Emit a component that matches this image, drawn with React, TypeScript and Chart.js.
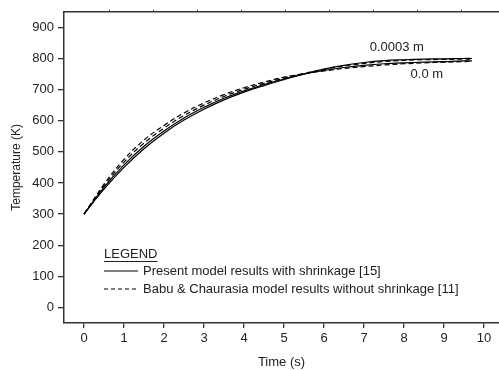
import React, { useEffect, useRef } from "react";
import { Chart, registerables } from "chart.js";

Chart.register(...registerables);

const TIME = [0, 0.5, 1, 1.5, 2, 2.5, 3, 3.5, 4, 4.5, 5, 5.5, 6, 6.5, 7, 7.5, 8, 8.5, 9, 9.5, 9.7];
const PRESENT_0003 = [300, 380, 450, 510, 560, 602, 637, 667, 692, 713, 732, 750, 766, 778, 787, 793, 796, 798, 799, 800, 800];
const PRESENT_00 = [300, 386, 458, 518, 567, 609, 643, 672, 696, 716, 734, 750, 762, 771, 778, 783, 786, 788, 790, 792, 792];
const BABU_0003 = [300, 391, 467, 528, 576, 617, 650, 678, 701, 720, 737, 752, 765, 776, 784, 790, 794, 796, 797, 798, 798];
const BABU_00 = [300, 396, 476, 538, 585, 625, 657, 684, 706, 724, 740, 751, 760, 768, 774, 779, 783, 786, 788, 790, 791];

const X_TICKS = [0, 1, 2, 3, 4, 5, 6, 7, 8, 9, 10];
const Y_TICKS = [0, 100, 200, 300, 400, 500, 600, 700, 800, 900];

const LEGEND_TITLE = "LEGEND";
const LEGEND_LABELS = [
  "Present model results with shrinkage [15]",
  "Babu & Chaurasia model results without shrinkage [11]",
];
const ANNOTATIONS = [
  { text: "0.0003 m", x: 7.82, y: 836 },
  { text: "0.0 m", x: 8.57, y: 749 },
];

const FONT = "'Liberation Sans', Arial, sans-serif";
const AXIS_COLOR = "#333";
const TEXT_COLOR = "#222";

const pts = (ys: number[]) => TIME.map((t, i) => ({ x: t, y: ys[i] }));

const overlayPlugin = {
  id: "overlay",
  afterDraw(chart: any) {
    const ctx = chart.ctx;
    const { left, bottom } = chart.chartArea;
    const xs = chart.scales.x;
    const ys = chart.scales.y;
    ctx.save();
    ctx.font = `13px ${FONT}`;
    ctx.fillStyle = TEXT_COLOR;
    ctx.textBaseline = "middle";
    ctx.textAlign = "center";
    ANNOTATIONS.forEach((a) => {
      ctx.fillText(a.text, xs.getPixelForValue(a.x), ys.getPixelForValue(a.y));
    });
    const lx = left + 40;
    const ty = bottom - 69;
    ctx.textAlign = "left";
    ctx.fillText(LEGEND_TITLE, lx, ty);
    const w = ctx.measureText(LEGEND_TITLE).width;
    ctx.strokeStyle = TEXT_COLOR;
    ctx.lineWidth = 1;
    ctx.beginPath();
    ctx.moveTo(lx, ty + 7.5);
    ctx.lineTo(lx + w, ty + 7.5);
    ctx.stroke();
    LEGEND_LABELS.forEach((lab, i) => {
      const y = ty + 17 + i * 18;
      ctx.strokeStyle = "#000";
      ctx.lineWidth = 1.1;
      ctx.setLineDash(i === 0 ? [] : [4, 3]);
      ctx.beginPath();
      ctx.moveTo(lx, y);
      ctx.lineTo(lx + 34, y);
      ctx.stroke();
      ctx.setLineDash([]);
      ctx.fillText(lab, lx + 39, y);
    });
    ctx.restore();
  },
};

export default function App() {
  const ref = useRef<HTMLCanvasElement>(null);
  useEffect(() => {
    if (!ref.current) return;
    const mk = (label: string, data: number[], dashed: boolean) => ({
      label,
      data: pts(data),
      borderColor: "#000",
      borderWidth: 1.2,
      borderDash: dashed ? [5, 3] : [],
      pointRadius: 0,
      tension: 0.4,
      fill: false,
    });
    const chart = new Chart(ref.current, {
      type: "line",
      data: {
        datasets: [
          mk("Present 0.0003 m", PRESENT_0003, false),
          mk("Present 0.0 m", PRESENT_00, false),
          mk("Babu 0.0003 m", BABU_0003, true),
          mk("Babu 0.0 m", BABU_00, true),
        ],
      },
      options: {
        animation: false,
        responsive: false,
        devicePixelRatio: 1,
        layout: { padding: 0 },
        plugins: { legend: { display: false }, tooltip: { enabled: false }, title: { display: false } },
        scales: {
          x: {
            type: "linear",
            position: "bottom",
            min: -0.5,
            max: 10.375,
            afterBuildTicks: (s: any) => {
              s.ticks = X_TICKS.map((v) => ({ value: v }));
            },
            afterFit: (s: any) => {
              s.height = 47;
            },
            ticks: { color: TEXT_COLOR, font: { size: 13, family: FONT }, padding: 3, maxRotation: 0, autoSkip: false },
            grid: { drawOnChartArea: false, drawTicks: true, tickLength: 5, color: AXIS_COLOR, lineWidth: 1.3 },
            border: { display: true, color: AXIS_COLOR, width: 1.5 },
            title: { display: true, text: "Time (s)", color: TEXT_COLOR, font: { size: 13, family: FONT }, padding: { top: 0, bottom: 0 } },
          },
          x2: {
            type: "linear",
            position: "top",
            min: -1.03,
            max: 8.86,
            afterBuildTicks: (s: any) => {
              const t = [];
              for (let v = 0; v <= 8; v++) t.push({ value: v });
              s.ticks = t;
            },
            afterFit: (s: any) => {
              s.height = 8;
            },
            ticks: { display: false },
            grid: { drawOnChartArea: false, drawTicks: true, tickLength: 2, color: AXIS_COLOR, lineWidth: 1 },
            border: { display: true, color: AXIS_COLOR, width: 1.5 },
          },
          y: {
            type: "linear",
            position: "left",
            min: -50,
            max: 950,
            afterBuildTicks: (s: any) => {
              s.ticks = Y_TICKS.map((v) => ({ value: v }));
            },
            afterFit: (s: any) => {
              s.width = 64;
            },
            ticks: { color: TEXT_COLOR, font: { size: 13, family: FONT }, padding: 4 },
            grid: { drawOnChartArea: false, drawTicks: true, tickLength: 6, color: AXIS_COLOR, lineWidth: 1.3 },
            border: { display: true, color: AXIS_COLOR, width: 1.5 },
            title: { display: true, text: "Temperature (K)", color: TEXT_COLOR, font: { size: 12, family: FONT }, padding: { top: 9, bottom: 0 } },
          },
        },
      },
      plugins: [overlayPlugin],
    });
    return () => chart.destroy();
  }, []);
  return (
    <div style={{ position: "fixed", left: 0, top: 0, width: 499, height: 370, background: "#fff" }}>
      <canvas ref={ref} width={499} height={370} style={{ display: "block" }} />
    </div>
  );
}
